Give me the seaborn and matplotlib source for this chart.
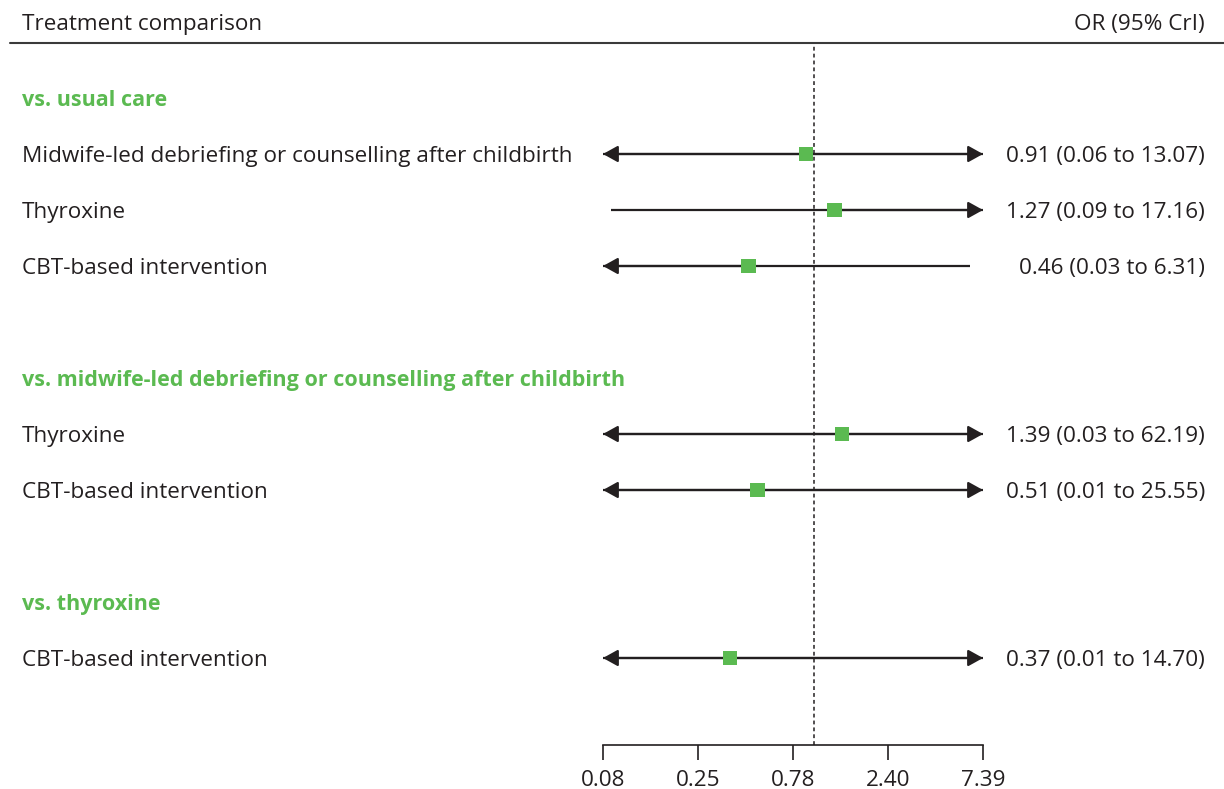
import numpy as np
import pandas as pd
import matplotlib
matplotlib.use("Agg")
import matplotlib.pyplot as plt
import matplotlib.transforms as mtrans
import seaborn as sns

# ---- data ----
groups = ["vs. usual care",
          "vs. midwife-led debriefing or counselling after childbirth",
          "vs. thyroxine"]
comparisons = [
    ["Midwife-led debriefing or counselling after childbirth", "Thyroxine", "CBT-based intervention"],
    ["Thyroxine", "CBT-based intervention"],
    ["CBT-based intervention"],
]
or_est = [[0.91, 1.27, 0.46], [1.39, 0.51], [0.37]]
or_lo = [[0.06, 0.09, 0.03], [0.03, 0.01], [0.01]]
or_hi = [[13.07, 17.16, 6.31], [62.19, 25.55], [14.70]]
tick_vals = [0.08, 0.25, 0.78, 2.40, 7.39]
tick_logs = [-2.5, -1.375, -0.25, 0.875, 2.0]

GREEN = "#5BBA51"
DARK = "#231F20"
FS = 16.2
FS_G = 15.5

sns.set_theme(style="white")
plt.rcParams["font.family"] = ["Open Sans", "DejaVu Sans"]

W, H = 1224, 789
fig = plt.figure(figsize=(W / 100, H / 100), dpi=100)

# axes in pixel coordinates
x0, x1 = 603, 983
ytop, ybot = 43, 745
ax = fig.add_axes([x0 / W, 1 - ybot / H, (x1 - x0) / W, (ybot - ytop) / H])

# build table of rows
rows = []
r = 1
group_rows = []
for g, comps in enumerate(comparisons):
    group_rows.append((r, groups[g]))
    r += 1
    for k, c in enumerate(comps):
        rows.append(dict(row=r, label=c, est=or_est[g][k], lo=or_lo[g][k], hi=or_hi[g][k]))
        r += 1
    r += 1
df = pd.DataFrame(rows)

xmin, xmax = np.exp(tick_logs[0]), np.exp(tick_logs[-1])
ax.set_xscale("log")
ax.set_xlim(xmin, xmax)
ax.set_ylim(1 + (ybot - 98) / 56, 1 + (ytop - 98) / 56)

# CI lines with arrows when beyond limits
for _, d in df.iterrows():
    lo_c = max(d.lo, xmin)
    hi_c = min(d.hi, xmax)
    ax.plot([lo_c, hi_c], [d.row, d.row], color=DARK, lw=1.6, solid_capstyle="butt", zorder=2)
    hw = dict(arrowstyle="-|>,head_length=0.9,head_width=0.5", color=DARK, lw=1.6,
              shrinkA=0, shrinkB=0, mutation_scale=10)
    if d.hi > xmax:
        ax.annotate("", xy=(xmax, d.row), xytext=(d.est, d.row), arrowprops=hw,
                    annotation_clip=False, zorder=2)
    if d.lo < xmin:
        ax.annotate("", xy=(xmin, d.row), xytext=(d.est, d.row), arrowprops=hw,
                    annotation_clip=False, zorder=2)

sns.scatterplot(data=df, x="est", y="row", marker="s", s=110, color=GREEN,
                edgecolor="none", ax=ax, zorder=3, legend=False)

# reference line at OR = 1
ax.axvline(1.0, color=DARK, lw=1.1, ls=(0, (2.5, 2)), zorder=1)

# axis styling
for sp in ["top", "right", "left"]:
    ax.spines[sp].set_visible(False)
ax.spines["bottom"].set_color(DARK)
ax.spines["bottom"].set_linewidth(1.2)
ax.set_xticks(np.exp(tick_logs))
ax.set_xticklabels([f"{v:.2f}" for v in tick_vals], fontsize=FS, color=DARK)
ax.xaxis.set_minor_locator(matplotlib.ticker.NullLocator())
ax.tick_params(axis="x", direction="out", length=11, width=1.2, color=DARK, pad=7, bottom=True)
ax.set_yticks([])
ax.set_xlabel("")
ax.set_ylabel("")
ax.patch.set_alpha(0)
ax.grid(False)

# text columns
trans_l = mtrans.blended_transform_factory(fig.transFigure, ax.transData)
for rr, g in group_rows:
    fig.text(22 / W, rr, g, transform=trans_l, fontsize=FS_G, color=GREEN,
             fontweight="bold", va="center_baseline", ha="left")
for _, d in df.iterrows():
    fig.text(22 / W, d.row, d.label, transform=trans_l, fontsize=FS, color=DARK,
             va="center_baseline", ha="left")
    fig.text(1205 / W, d.row, f"{d.est:.2f} ({d.lo:.2f} to {d.hi:.2f})", transform=trans_l,
             fontsize=FS, color=DARK, va="center_baseline", ha="right")

# header
fig.text(22 / W, 1 - 22 / H, "Treatment comparison", fontsize=FS, color=DARK,
         va="center_baseline", ha="left")
fig.text(1205 / W, 1 - 22 / H, "OR (95% CrI)", fontsize=FS, color=DARK,
         va="center_baseline", ha="right")
fig.add_artist(plt.Line2D([10 / W, 1], [1 - 43 / H, 1 - 43 / H], color="#3a3a3a", lw=1.5,
                          transform=fig.transFigure))

fig.savefig("out.png", dpi=100, facecolor="white")
